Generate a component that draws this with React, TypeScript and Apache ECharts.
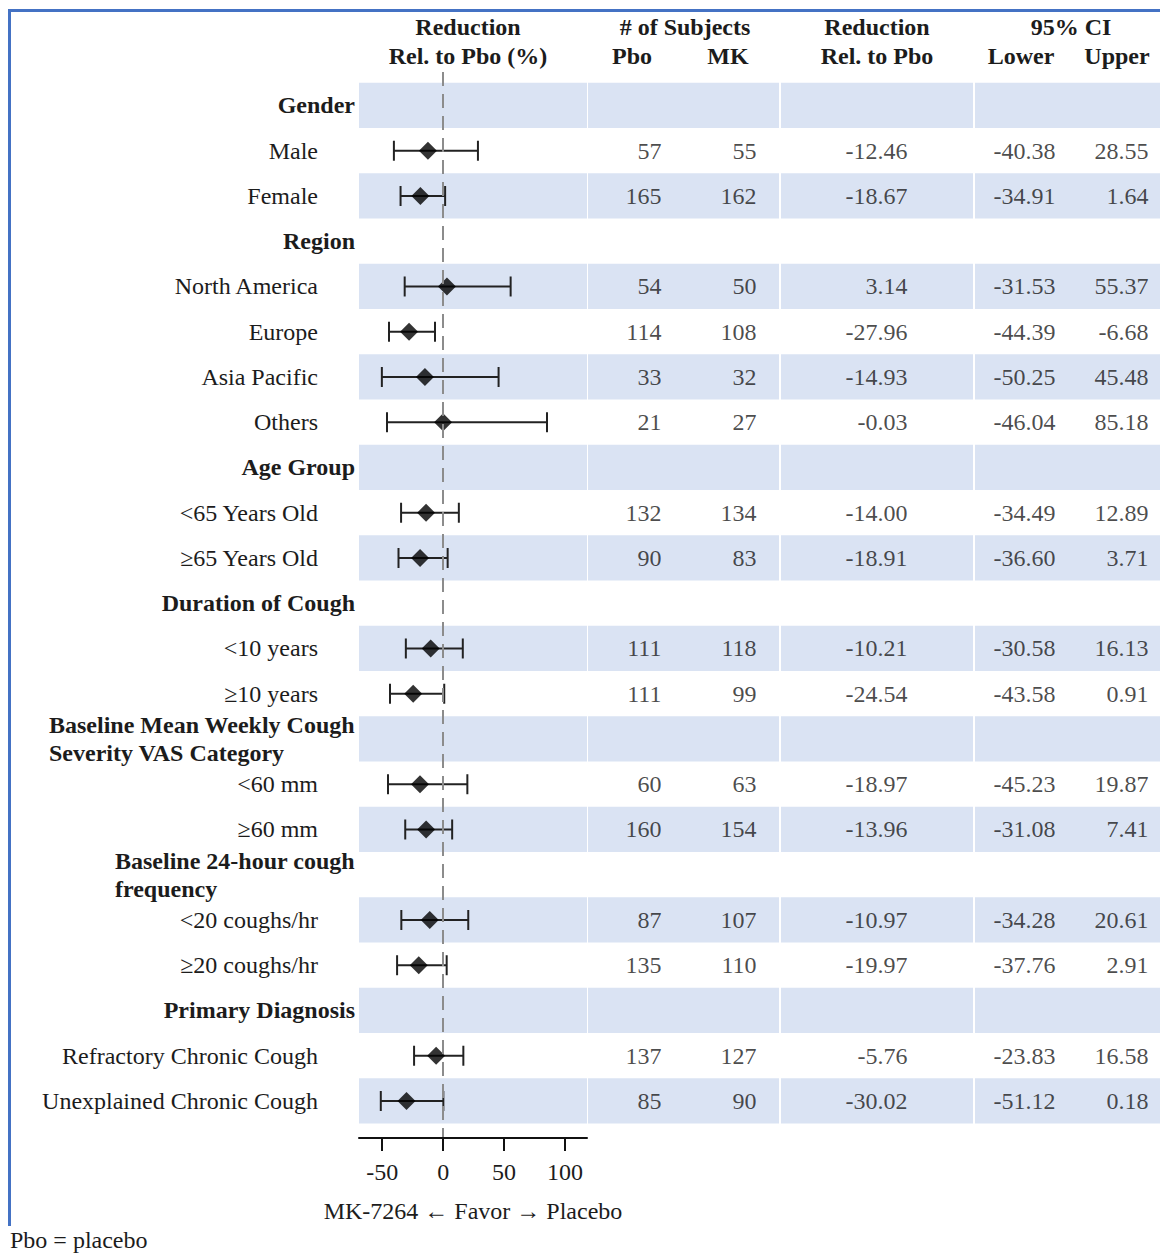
import React, { useEffect, useRef } from "react";
import * as echarts from "echarts";

const FONT = '"Liberation Serif", "Times New Roman", serif';
const TEXT = "#1c1c1c";
const BAND = "#dae3f3";

const rowLabels = [
  "Gender", "Male", "Female",
  "Region", "North America", "Europe", "Asia Pacific", "Others",
  "Age Group", "<65 Years Old", "≥65 Years Old",
  "Duration of Cough", "<10 years", "≥10 years",
  "Baseline Mean Weekly Cough\nSeverity VAS Category", "<60 mm", "≥60 mm",
  "Baseline 24-hour cough\nfrequency", "<20 coughs/hr", "≥20 coughs/hr",
  "Primary Diagnosis", "Refractory Chronic Cough", "Unexplained Chronic Cough",
];
const headerRows = [0, 3, 8, 11, 14, 17, 20];
const pboN = [null, 57, 165, null, 54, 114, 33, 21, null, 132, 90, null, 111, 111, null, 60, 160, null, 87, 135, null, 137, 85];
const mkN = [null, 55, 162, null, 50, 108, 32, 27, null, 134, 83, null, 118, 99, null, 63, 154, null, 107, 110, null, 127, 90];
const reduction = [null, -12.46, -18.67, null, 3.14, -27.96, -14.93, -0.03, null, -14.0, -18.91, null, -10.21, -24.54, null, -18.97, -13.96, null, -10.97, -19.97, null, -5.76, -30.02];
const ciLower = [null, -40.38, -34.91, null, -31.53, -44.39, -50.25, -46.04, null, -34.49, -36.6, null, -30.58, -43.58, null, -45.23, -31.08, null, -34.28, -37.76, null, -23.83, -51.12];
const ciUpper = [null, 28.55, 1.64, null, 55.37, -6.68, 45.48, 85.18, null, 12.89, 3.71, null, 16.13, 0.91, null, 19.87, 7.41, null, 20.61, 2.91, null, 16.58, 0.18];
const xTicks = [-50, 0, 50, 100];
const axisTitle = "MK-7264 ← Favor → Placebo";
const footnote = "Pbo = placebo";

export default function App() {
  const ref = useRef<HTMLDivElement>(null);
  useEffect(() => {
    if (!ref.current) return;
    const chart = echarts.init(ref.current, undefined, { renderer: "svg" });
    const rowIdx = rowLabels.map((_, i) => i);
    const bandRows = rowIdx.filter((i) => i % 2 === 0);
    const dataRows = rowIdx.filter((i) => reduction[i] !== null);

    const grids = [
      { left: 359, width: 228 },
      { left: 588, width: 191 },
      { left: 781, width: 192 },
      { left: 975, width: 185 },
    ].map((g) => ({ ...g, top: 72, bottom: 116, outerBoundsMode: "none", containLabel: false }));

    const yBase = { type: "value", inverse: true, min: -0.74, max: 22.818 };
    const yAxes: any[] = grids.map((_, gi) =>
      gi === 0
        ? {
            ...yBase,
            gridIndex: 0,
            axisLine: { show: false, onZero: false },
            axisTick: { show: false },
            splitLine: { show: false },
            axisLabel: {
              customValues: rowIdx,
              margin: 4,
              fontFamily: FONT,
              fontSize: 24,
              color: TEXT,
              formatter: (v: number) => {
                const i = Math.round(v);
                const lab = rowLabels[i];
                if (headerRows.includes(i)) {
                  return lab.split("\n").map((l) => `{h|${l}}`).join("\n");
                }
                return `{n|${lab}}`;
              },
              rich: {
                h: { fontWeight: "bold", fontFamily: FONT, fontSize: 24, color: TEXT, align: "left", lineHeight: 28 },
                n: { fontFamily: FONT, fontSize: 24, color: TEXT, padding: [0, 37, 0, 0] },
              },
            },
          }
        : { ...yBase, gridIndex: gi, show: false }
    );

    const xAxes: any[] = [
      {
        type: "value",
        gridIndex: 0,
        min: -69,
        max: 118,
        z: 5,
        axisLine: { show: true, onZero: false, lineStyle: { color: "#111", width: 2 } },
        axisTick: { show: true, customValues: xTicks, length: 13, lineStyle: { color: "#111", width: 2 } },
        axisLabel: { customValues: xTicks, margin: 22, fontFamily: FONT, fontSize: 24, color: TEXT },
        splitLine: { show: false },
        name: axisTitle,
        nameLocation: "middle",
        nameGap: 61,
        nameTextStyle: { fontFamily: FONT, fontSize: 24, color: TEXT },
      },
      ...[1, 2, 3].map((gi) => ({ type: "value", gridIndex: gi, min: 0, max: 100, show: false })),
    ];

    const bandSeries = grids.map((_, gi) => ({
      type: "scatter",
      xAxisIndex: gi,
      yAxisIndex: gi,
      data: [],
      silent: true,
      z: 0,
      markArea: {
        silent: true,
        itemStyle: { color: BAND },
        data: bandRows.map((i) => [{ yAxis: i - 0.5 }, { yAxis: i + 0.5 }]),
      },
    }));

    const columns = [
      { grid: 1, pos: 38.7, values: pboN, fmt: (v: number) => String(v) },
      { grid: 1, pos: 88.5, values: mkN, fmt: (v: number) => String(v) },
      { grid: 2, pos: 66.1, values: reduction, fmt: (v: number) => v.toFixed(2) },
      { grid: 3, pos: 43.8, values: ciLower, fmt: (v: number) => v.toFixed(2) },
      { grid: 3, pos: 94.1, values: ciUpper, fmt: (v: number) => v.toFixed(2) },
    ];
    const tableSeries = columns.map((c) => ({
      type: "scatter",
      xAxisIndex: c.grid,
      yAxisIndex: c.grid,
      silent: true,
      z: 3,
      symbolSize: 1,
      itemStyle: { color: "rgba(0,0,0,0)" },
      data: dataRows.map((i) => [c.pos, i, c.fmt(c.values[i] as number)]),
      label: {
        show: true,
        position: "left",
        distance: 0,
        formatter: (p: any) => p.value[2],
        fontFamily: FONT,
        fontSize: 24,
        color: TEXT,
      },
    }));

    const headers = [
      { text: "Reduction", x: 468, y: 27 },
      { text: "Rel. to Pbo (%)", x: 468, y: 56 },
      { text: "# of Subjects", x: 685, y: 27 },
      { text: "Pbo", x: 632, y: 56 },
      { text: "MK", x: 728, y: 56 },
      { text: "Reduction", x: 877, y: 27 },
      { text: "Rel. to Pbo", x: 877, y: 56 },
      { text: "95% CI", x: 1071, y: 27 },
      { text: "Lower", x: 1021, y: 56 },
      { text: "Upper", x: 1117, y: 56 },
    ];

    chart.setOption({
      animation: false,
      backgroundColor: "#ffffff",
      grid: grids,
      xAxis: xAxes,
      yAxis: yAxes,
      series: [
        ...bandSeries,
        {
          type: "scatter",
          xAxisIndex: 0,
          yAxisIndex: 0,
          data: [],
          silent: true,
          z: 1,
          markLine: {
            silent: true,
            symbol: "none",
            label: { show: false },
            lineStyle: { color: "#8c8c8c", width: 2, type: [14, 8] },
            data: [{ xAxis: 0 }],
          },
        },
        {
          type: "custom",
          xAxisIndex: 0,
          yAxisIndex: 0,
          silent: true,
          z: 2,
          data: dataRows.map((i) => [i, ciLower[i], ciUpper[i]]),
          encode: { x: [1, 2], y: 0 },
          renderItem: (_params: any, api: any) => {
            const row = api.value(0);
            const p1 = api.coord([api.value(1), row]);
            const p2 = api.coord([api.value(2), row]);
            const h = 10;
            const style = { stroke: "#222", lineWidth: 2 };
            return {
              type: "group",
              children: [
                { type: "line", shape: { x1: p1[0], y1: p1[1], x2: p2[0], y2: p2[1] }, style },
                { type: "line", shape: { x1: p1[0], y1: p1[1] - h, x2: p1[0], y2: p1[1] + h }, style },
                { type: "line", shape: { x1: p2[0], y1: p2[1] - h, x2: p2[0], y2: p2[1] + h }, style },
              ],
            };
          },
        },
        {
          type: "scatter",
          xAxisIndex: 0,
          yAxisIndex: 0,
          silent: true,
          z: 4,
          symbol: "diamond",
          symbolSize: 18,
          itemStyle: { color: "#000" },
          data: dataRows.map((i) => [reduction[i], i]),
        },
        ...tableSeries,
      ],
      graphic: [
        ...headers.map((h) => ({
          type: "text",
          x: h.x,
          y: h.y,
          silent: true,
          style: {
            text: h.text,
            fontFamily: FONT,
            fontSize: 24,
            fontWeight: "bold",
            fill: TEXT,
            textAlign: "center",
            textVerticalAlign: "middle",
          },
        })),
        {
          type: "text",
          x: 10,
          y: 1240,
          silent: true,
          style: { text: footnote, fontFamily: FONT, fontSize: 24, fill: TEXT, textAlign: "left", textVerticalAlign: "middle" },
        },
        { type: "line", silent: true, shape: { x1: 8, y1: 10.5, x2: 1160, y2: 10.5 }, style: { stroke: "#4472c4", lineWidth: 3 } },
        { type: "line", silent: true, shape: { x1: 9.5, y1: 9, x2: 9.5, y2: 1226 }, style: { stroke: "#4472c4", lineWidth: 3 } },
      ],
    });
    return () => chart.dispose();
  }, []);
  return <div ref={ref} style={{ position: "absolute", left: 0, top: 0, width: 1160, height: 1254 }} />;
}
